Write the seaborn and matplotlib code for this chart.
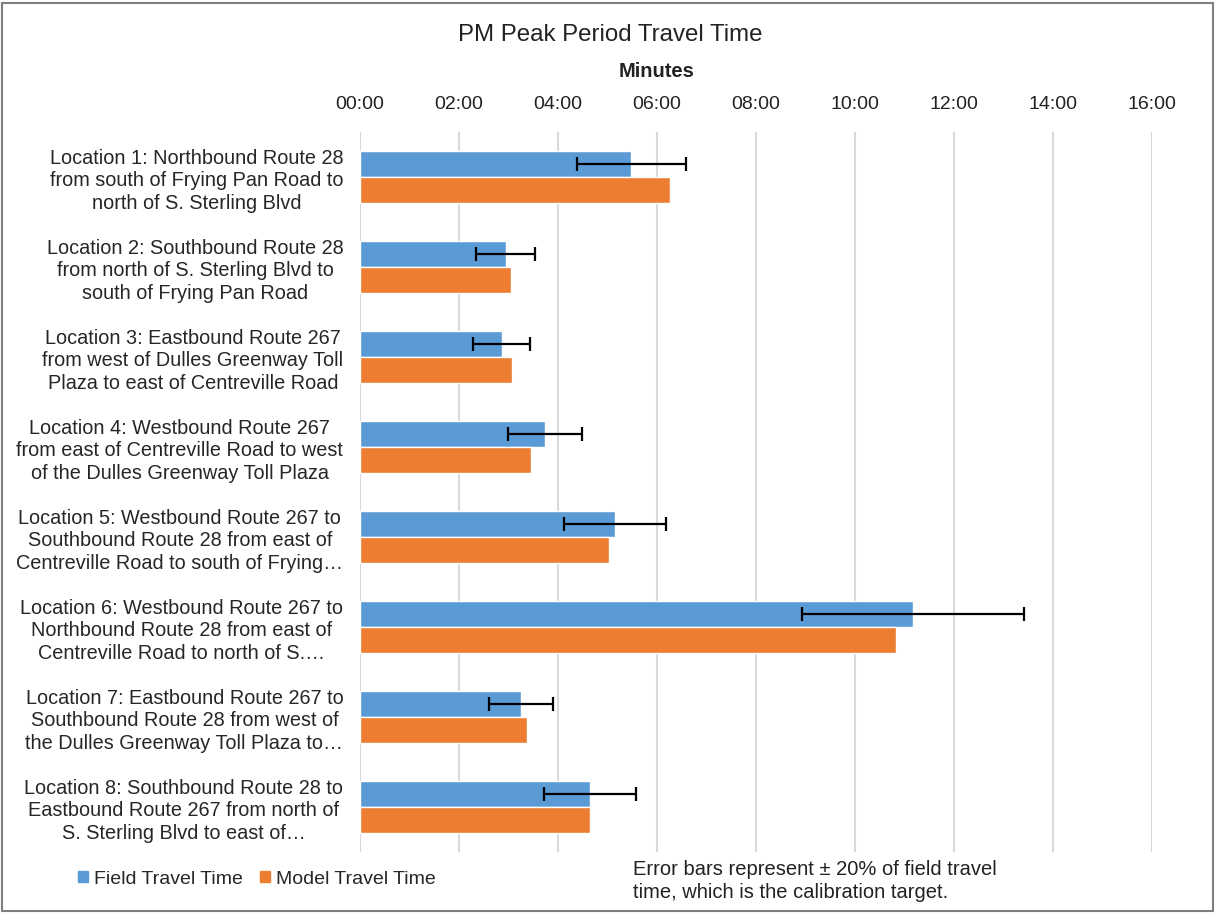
import pandas as pd
import matplotlib
matplotlib.use("Agg")
import matplotlib.pyplot as plt
from matplotlib.patches import Rectangle
from matplotlib.ticker import FuncFormatter
import seaborn as sns

# Data (travel times in minutes)
locations = [
    "Location 1: Northbound Route 28\nfrom south of Frying Pan Road to\nnorth of S. Sterling Blvd",
    "Location 2: Southbound Route 28\nfrom north of S. Sterling Blvd to\nsouth of Frying Pan Road",
    "Location 3: Eastbound Route 267\nfrom west of Dulles Greenway Toll\nPlaza to east of Centreville Road",
    "Location 4: Westbound Route 267\nfrom east of Centreville Road to west\nof the Dulles Greenway Toll Plaza",
    "Location 5: Westbound Route 267 to\nSouthbound Route 28 from east of\nCentreville Road to south of Frying\u2026",
    "Location 6: Westbound Route 267 to\nNorthbound Route 28 from east of\nCentreville Road to north of S.\u2026",
    "Location 7: Eastbound Route 267 to\nSouthbound Route 28 from west of\nthe Dulles Greenway Toll Plaza to\u2026",
    "Location 8: Southbound Route 28 to\nEastbound Route 267 from north of\nS. Sterling Blvd to east of\u2026",
]
field_time = [5.48, 2.94, 2.86, 3.74, 5.15, 11.17, 3.25, 4.64]
model_time = [6.26, 3.06, 3.08, 3.45, 5.03, 10.82, 3.37, 4.64]
series = ["Field Travel Time", "Model Travel Time"]
colors = ["#5B9BD5", "#ED7D31"]
x_ticks = [0, 2, 4, 6, 8, 10, 12, 14, 16]

df = pd.DataFrame({
    "Location": locations * 2,
    "Minutes": field_time + model_time,
    "Series": [series[0]] * len(locations) + [series[1]] * len(locations),
})

sns.set_style("white")
plt.rcParams["font.family"] = ["Liberation Sans", "DejaVu Sans"]

fig = plt.figure(figsize=(12.15, 9.13), dpi=100)
ax = fig.add_axes([0.2963, 0.0668, 0.6519, 0.7886])

sns.barplot(data=df, x="Minutes", y="Location", hue="Series", orient="h",
            palette=colors, width=0.57, saturation=1, ax=ax, legend=False)

# Error bars: +/- 20% of field travel time
blue_bars = ax.containers[0]
for bar, val in zip(blue_bars, field_time):
    yc = bar.get_y() + bar.get_height() / 2
    ax.errorbar(val, yc, xerr=0.2 * val, fmt="none", ecolor="black",
                elinewidth=1.6, capsize=5, capthick=1.6, zorder=5)

ax.set_xlim(0, 16)
ax.set_ylim(len(locations) - 0.5, -0.5)
ax.set_xticks(x_ticks)
ax.xaxis.set_major_formatter(FuncFormatter(lambda v, p: f"{int(v):02d}:00"))
ax.xaxis.tick_top()
ax.tick_params(axis="x", length=0, labelsize=14, pad=14, colors="#222222")
ax.tick_params(axis="y", length=0, labelsize=14.3, pad=12)
for lbl in ax.get_yticklabels():
    lbl.set_multialignment("center")
    lbl.set_linespacing(1.25)
ax.set_xlabel("")
ax.set_ylabel("")
ax.grid(axis="x", color="#d9d9d9", linewidth=1.5)
ax.set_axisbelow(True)
for s in ax.spines.values():
    s.set_visible(False)

fig.text(0.502, 0.962, "PM Peak Period Travel Time", ha="center", va="center",
         fontsize=17.3, color="#222222")
fig.text(0.54, 0.922, "Minutes", ha="center", va="center",
         fontsize=14.5, fontweight="bold", color="#222222")

# Legend
handles = [Rectangle((0, 0), 1, 1, color=c) for c in colors]
fig.legend(handles, series, loc="center left", bbox_to_anchor=(0.05, 0.037),
           ncol=2, frameon=False, fontsize=14, handlelength=0.5, handleheight=0.5,
           handletextpad=0.3, columnspacing=0.9)

fig.text(0.521, 0.035, "Error bars represent \u00b1 20% of field travel\ntime, which is the calibration target.",
         ha="left", va="center", fontsize=14.5, linespacing=1.25, color="#222222")

# Outer border
fig.patches.append(Rectangle((0.002, 0.002), 0.996, 0.995, transform=fig.transFigure,
                             fill=False, edgecolor="#7f7f7f", linewidth=1.5))

fig.savefig("out.png", dpi=100)
